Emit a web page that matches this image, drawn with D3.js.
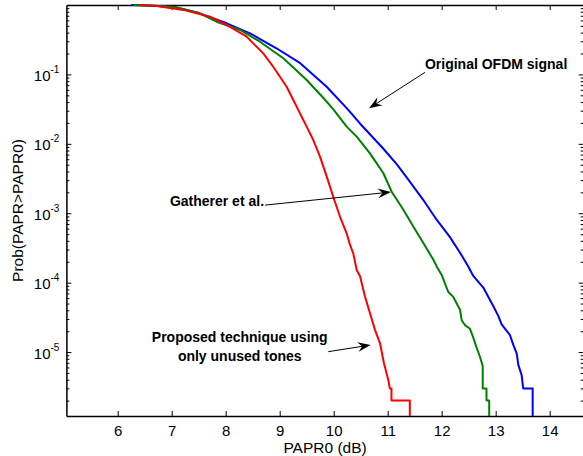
<!DOCTYPE html>
<html>
<head>
<meta charset="utf-8">
<script src="https://cdn.jsdelivr.net/npm/d3@7"></script>
<style>
  html, body { margin: 0; padding: 0; background: #fff; }
  svg { display: block; }
  text { font-family: "Liberation Sans", Arial, Helvetica, sans-serif; }
</style>
</head>
<body>
<svg id="chart" width="583" height="456"></svg>
<script>
// ---------------- data ----------------
const xTicks = [6, 7, 8, 9, 10, 11, 12, 13, 14];
const yMajorExp = [-1, -2, -3, -4, -5];
const xLabel = "PAPR0 (dB)";
const yLabel = "Prob(PAPR>PAPR0)";

// Original OFDM signal (blue): [PAPR0 dB, probability]
const originalOFDM = [
  [6.25, 0.998], [6.45, 0.989], [6.75, 0.966], [7.09, 0.925], [7.52, 0.759],
  [8.02, 0.545], [8.45, 0.391], [8.94, 0.238], [9.38, 0.145], [9.87, 0.0665],
  [10.27, 0.0309], [10.49, 0.0195], [10.80, 0.0107], [10.92, 0.00850], [11.17, 0.00505],
  [11.41, 0.00285], [11.66, 0.00155], [11.91, 8.0e-4], [12.15, 4.57e-4], [12.34, 2.70e-4],
  [12.49, 1.72e-4], [12.585, 1.25e-4], [12.77, 8.5e-5], [12.86, 6.3e-5], [12.955, 4.6e-5],
  [13.05, 3.3e-5], [13.11, 2.5e-5], [13.265, 1.75e-5], [13.33, 1.25e-5], [13.39, 9.5e-6],
  [13.42, 6.5e-6], [13.48, 4.7e-6], [13.51, 3e-6], [13.685, 3e-6], [13.685, 1e-6]
];
// Gatherer et al. (green)
const gatherer = [
  [6.3, 0.998], [6.75, 0.966], [7.09, 0.925], [7.52, 0.759], [7.83, 0.575],
  [8.265, 0.437], [8.635, 0.296], [9.067, 0.171], [9.5, 0.0832], [9.81, 0.0457],
  [9.99, 0.0316], [10.24, 0.0177], [10.426, 0.0127], [10.672, 0.0073], [10.918, 0.0038],
  [11.074, 0.00204], [11.29, 0.00112], [11.474, 6.46e-4], [11.66, 3.72e-4], [11.846, 2.14e-4],
  [11.91, 1.70e-4], [12.0, 1.29e-4], [12.06, 9.8e-5], [12.12, 7.4e-5], [12.21, 6.3e-5],
  [12.34, 4.07e-5], [12.37, 2.88e-5], [12.43, 2.45e-5], [12.52, 2.19e-5], [12.58, 1.66e-5],
  [12.64, 1.20e-5], [12.71, 8.5e-6], [12.76, 6.3e-6], [12.76, 3e-6], [12.83, 3e-6],
  [12.83, 2e-6], [12.88, 2e-6], [12.88, 1e-6]
];
// Proposed technique using only unused tones (red)
const proposed = [
  [6.4, 0.998], [6.72, 0.97], [7.0, 0.90], [7.215, 0.85], [7.71, 0.679],
  [8.018, 0.515], [8.388, 0.35], [8.696, 0.201], [8.88, 0.129], [9.129, 0.0665],
  [9.252, 0.0429], [9.314, 0.0343], [9.437, 0.022], [9.5, 0.0177], [9.622, 0.01135],
  [9.685, 0.00863], [9.746, 0.00653], [9.87, 0.00339], [9.99, 0.00174], [10.117, 8.9e-4],
  [10.24, 5.13e-4], [10.30, 3.55e-4], [10.363, 2.63e-4], [10.426, 1.52e-4], [10.49, 1.23e-4],
  [10.519, 9.8e-5], [10.58, 6.3e-5], [10.672, 3.63e-5], [10.765, 2.09e-5], [10.857, 1.35e-5],
  [10.931, 6.9e-6], [11.01, 4e-6], [11.04, 3e-6], [11.07, 3e-6], [11.07, 2e-6],
  [11.41, 2e-6], [11.41, 1e-6]
];

const seriesNames = ["Original OFDM signal", "Gatherer et al.", "Proposed technique using only unused tones"];
const seriesColors = ["#0000ff", "#008000", "#ff0000"];

// Annotations in data coordinates: text lines, text anchor point, arrow start, arrow tip
const annotations = [
  { lines: ["Original OFDM signal"], anchor: "start", tx: 11.69, ty: 0.118, from: [11.69, 0.107], to: [10.655, 0.0325] },
  { lines: ["Gatherer et al."], anchor: "end", tx: 8.71, ty: 0.00128, from: [8.73, 0.00131], to: [11.06, 0.00202] },
  { lines: ["Proposed technique using", "only unused tones"], anchor: "middle", tx: 8.26, ty: 1.38e-5, from: [9.90, 1.013e-5], to: [10.685, 1.265e-5] }
];

// ---------------- layout ----------------
const L = 66.4, R = 583.7, T = 5, B = 416;
const svg = d3.select("#chart");

const x = d3.scaleLinear().domain([5.05, 14.63]).range([L, R]);
const y = d3.scaleLog().domain([1.2e-6, 1]).range([B, T]);

const yMajors = yMajorExp.map(e => Math.pow(10, e));
const yMinors = [];
for (let e = -6; e <= -1; e++) for (let m = 2; m <= 9; m++) {
  const v = m * Math.pow(10, e);
  if (v >= 1.2e-6 && v <= 1) yMinors.push(v);
}

const fontTick = 15;

// bottom axis
const gB = svg.append("g").attr("transform", `translate(0,${B})`)
  .call(d3.axisBottom(x).tickValues(xTicks).tickSize(-5).tickSizeOuter(0).tickPadding(9).tickFormat(d3.format("d")));
// top axis
svg.append("g").attr("transform", `translate(0,${T})`)
  .call(d3.axisTop(x).tickValues(xTicks).tickSize(-5).tickSizeOuter(0).tickFormat(""));
// left axis majors + minors
const gL = svg.append("g").attr("transform", `translate(${L},0)`)
  .call(d3.axisLeft(y).tickValues(yMajors).tickSize(-5).tickSizeOuter(0).tickPadding(7).tickFormat(() => ""));
svg.append("g").attr("transform", `translate(${L},0)`)
  .call(d3.axisLeft(y).tickValues(yMinors).tickSize(-3).tickSizeOuter(0).tickFormat(""))
  .select(".domain").remove();
// right axis
svg.append("g").attr("transform", `translate(${R},0)`)
  .call(d3.axisRight(y).tickValues(yMajors).tickSize(-5).tickSizeOuter(0).tickFormat(""));
svg.append("g").attr("transform", `translate(${R},0)`)
  .call(d3.axisRight(y).tickValues(yMinors).tickSize(-3).tickSizeOuter(0).tickFormat(""))
  .select(".domain").remove();

svg.selectAll(".domain").attr("stroke", "#000").attr("stroke-width", 1.5);
svg.selectAll(".tick line").attr("stroke", "#000").attr("stroke-width", 1);

gB.selectAll(".tick text").attr("font-size", fontTick).attr("fill", "#000")
  .attr("font-family", "Liberation Sans, Arial, sans-serif");

// y tick labels 10^k
gL.selectAll(".tick text").each(function(d) {
  const t = d3.select(this).text(null).attr("font-size", fontTick).attr("fill", "#000")
    .attr("dy", "0.4em").attr("font-family", "Liberation Sans, Arial, sans-serif");
  t.append("tspan").text("10");
  t.append("tspan").attr("font-size", 10).attr("dy", -8).text(String(Math.round(Math.log10(d))));
});

// axis labels
svg.append("text").attr("x", (L + R) / 2).attr("y", 452.5).attr("text-anchor", "middle")
  .attr("font-size", 15.5).attr("fill", "#000").text(xLabel);
svg.append("text").attr("transform", `translate(23.3,${(T + B) / 2}) rotate(-90)`)
  .attr("text-anchor", "middle").attr("font-size", 15.5).attr("fill", "#000").text(yLabel);

// curves
svg.append("clipPath").attr("id", "clip").append("rect")
  .attr("x", L).attr("y", T - 1).attr("width", R - L).attr("height", B - T + 1);
const line = d3.line().x(d => x(d[0])).y(d => y(d[1]));
const allSeries = [originalOFDM, gatherer, proposed];
svg.append("g").attr("clip-path", "url(#clip)")
  .selectAll("path").data(allSeries).join("path")
  .attr("d", line).attr("fill", "none")
  .attr("stroke", (d, i) => seriesColors[i]).attr("stroke-width", 2)
  .attr("stroke-linejoin", "round")
  .append("title").text((d, i) => seriesNames[i]);

// annotations
const gA = svg.append("g");
annotations.forEach(a => {
  const tx = x(a.tx), ty = y(a.ty);
  const txt = gA.append("text").attr("text-anchor", a.anchor).attr("font-size", 14)
    .attr("font-weight", "bold").attr("fill", "#000");
  a.lines.forEach((ln, i) => {
    txt.append("tspan").attr("x", tx).attr("y", ty + i * 18.5).text(ln);
  });
  const x1 = x(a.from[0]), y1 = y(a.from[1]), x2 = x(a.to[0]), y2 = y(a.to[1]);
  const ang = Math.atan2(y2 - y1, x2 - x1);
  const HL = 13, HW = 4.8, NB = 8.5;
  const ux = Math.cos(ang), uy = Math.sin(ang), px = -uy, py = ux;
  const bx = x2 - ux * HL, by = y2 - uy * HL;
  const nx = x2 - ux * NB, ny = y2 - uy * NB;
  gA.append("line").attr("x1", x1).attr("y1", y1).attr("x2", nx).attr("y2", ny)
    .attr("stroke", "#000").attr("stroke-width", 1);
  gA.append("path")
    .attr("d", `M${x2},${y2}L${bx + px * HW},${by + py * HW}L${nx},${ny}L${bx - px * HW},${by - py * HW}Z`)
    .attr("fill", "#000");
});
</script>
</body>
</html>
